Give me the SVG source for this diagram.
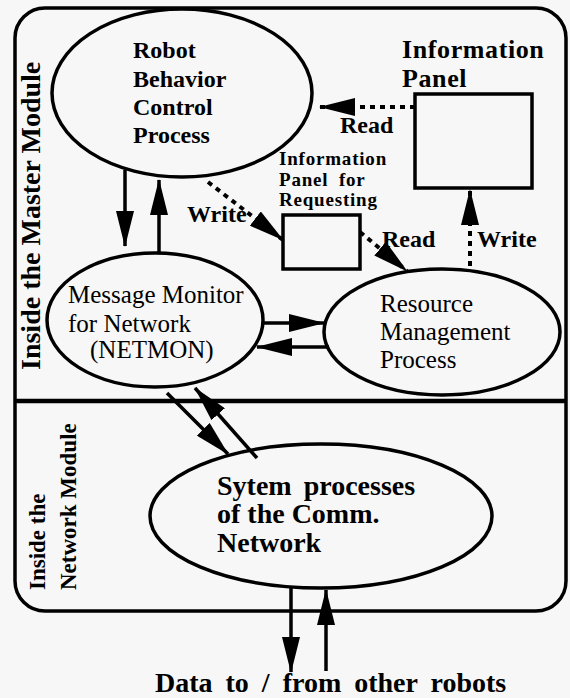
<svg xmlns="http://www.w3.org/2000/svg" width="570" height="698" viewBox="0 0 570 698">
<defs>
<style>
.b{font-family:"Liberation Serif","Times New Roman",serif;font-weight:bold;fill:#000}
.r{font-family:"Liberation Serif","Times New Roman",serif;font-weight:normal;fill:#000}
.shape{fill:none;stroke:#000;stroke-width:3.5}
.ln{fill:none;stroke:#000;stroke-width:3.5}
.dot{fill:none;stroke:#000;stroke-width:4;stroke-dasharray:5 5}
</style>
<marker id="ah" markerUnits="userSpaceOnUse" markerWidth="36" markerHeight="18" refX="35" refY="9" orient="auto" viewBox="0 0 36 18">
<path d="M0,0 L36,9 L0,18 Z" fill="#000"/>
</marker>
</defs>
<rect x="0" y="0" width="570" height="698" fill="#f7f7f7"/>

<g id="frame">
<rect x="15" y="8" width="551" height="603" rx="30" ry="30" class="shape"/>
<line x1="15" y1="401" x2="566" y2="401" stroke="#000" stroke-width="4.5"/>
<text class="b" font-size="28" transform="translate(40,370) rotate(-90)">Inside the Master Module</text>
<text class="b" font-size="23" transform="translate(45,590) rotate(-90)">Inside the</text>
<text class="b" font-size="23" transform="translate(76,590) rotate(-90)">Network Module</text>
</g>

<g id="robot-behavior">
<ellipse cx="182" cy="93" rx="130" ry="84" class="shape"/>
<text class="b" font-size="24" x="133" y="58">Robot</text>
<text class="b" font-size="24" x="133" y="87">Behavior</text>
<text class="b" font-size="24" x="133" y="115">Control</text>
<text class="b" font-size="24" x="133" y="143">Process</text>
</g>

<g id="info-panel">
<rect x="415" y="94" width="117" height="94" class="shape" stroke-width="4"/>
<text class="b" font-size="26" x="402" y="58" letter-spacing="0.6">Information</text>
<text class="b" font-size="26" x="402" y="87" letter-spacing="0.6">Panel</text>
</g>

<g id="info-panel-requesting">
<rect x="283" y="215" width="77" height="54" class="shape" stroke-width="4"/>
<text class="b" font-size="19" x="279" y="165" letter-spacing="0.8">Information</text>
<text class="b" font-size="19" x="279" y="186" letter-spacing="0.8" word-spacing="5">Panel for</text>
<text class="b" font-size="19" x="279" y="206" letter-spacing="0.8">Requesting</text>
</g>

<g id="netmon">
<ellipse cx="155" cy="320" rx="108" ry="67" class="shape"/>
<text class="r" font-size="25" x="68" y="303">Message Monitor</text>
<text class="r" font-size="25" x="68" y="332">for Network</text>
<text class="r" font-size="25" x="90" y="358">(NETMON)</text>
</g>

<g id="resource">
<ellipse cx="442" cy="332" rx="118" ry="63" class="shape"/>
<text class="r" font-size="25" x="380" y="312">Resource</text>
<text class="r" font-size="25" x="380" y="340">Management</text>
<text class="r" font-size="25" x="380" y="368">Process</text>
</g>

<g id="system">
<ellipse cx="321" cy="516" rx="171" ry="72" class="shape"/>
<text class="b" font-size="28" x="217" y="495" word-spacing="5">Sytem processes</text>
<text class="b" font-size="28" x="217" y="523">of the Comm.</text>
<text class="b" font-size="28" x="217" y="552">Network</text>
</g>

<g id="external">
<text class="b" font-size="28" x="155" y="692" word-spacing="6">Data to / from other robots</text>
</g>

<g id="connectors">
<line x1="125" y1="170" x2="125" y2="246" class="ln" marker-end="url(#ah)"/>
<line x1="159" y1="252" x2="159" y2="180" class="ln" marker-end="url(#ah)"/>
<line x1="263" y1="323" x2="324" y2="323" class="ln" marker-end="url(#ah)"/>
<line x1="329" y1="347" x2="257" y2="347" class="ln" marker-end="url(#ah)"/>
<line x1="415" y1="107" x2="320" y2="107" class="dot" marker-end="url(#ah)"/>
<line x1="208" y1="182" x2="283" y2="240" class="dot" marker-end="url(#ah)"/>
<line x1="360" y1="232" x2="407" y2="271" class="dot" marker-end="url(#ah)"/>
<line x1="470" y1="266" x2="470" y2="190" class="dot" marker-end="url(#ah)"/>
<line x1="167" y1="393" x2="228" y2="454" class="ln" marker-end="url(#ah)"/>
<line x1="257" y1="458" x2="195" y2="388" class="ln" marker-end="url(#ah)"/>
<line x1="291" y1="588" x2="291" y2="672" class="ln" marker-end="url(#ah)"/>
<line x1="326" y1="671" x2="326" y2="590" class="ln" marker-end="url(#ah)"/>
<text class="b" font-size="24" x="340" y="133">Read</text>
<text class="b" font-size="24" x="187" y="222">Write</text>
<text class="b" font-size="24" x="382" y="247">Read</text>
<text class="b" font-size="24" x="477" y="247">Write</text>
</g>
</svg>
